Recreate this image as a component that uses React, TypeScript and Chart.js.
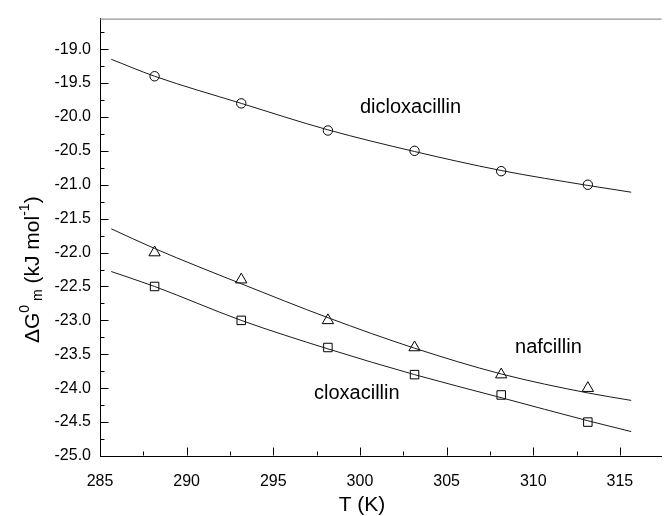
import React, { useEffect, useRef } from 'react';
import { Chart, registerables } from 'chart.js';

Chart.register(...registerables);

// ---- data ----
const temperatures = [288.15, 293.15, 298.15, 303.15, 308.15, 313.15];
const dicloxacillin = [-19.4, -19.8, -20.2, -20.5, -20.8, -21.0];
const nafcillin = [-22.0, -22.4, -23.0, -23.4, -23.8, -24.0];
const cloxacillin = [-22.5, -23.0, -23.4, -23.8, -24.1, -24.5];

const fitTemperatures = [285.65, 288.15, 293.15, 298.15, 303.15, 308.15, 313.15, 315.65];
const dicloxacillinFit = [-19.15, -19.4, -19.8, -20.19, -20.51, -20.79, -21.01, -21.11];
const nafcillinFit = [-21.65, -21.94, -22.46, -22.96, -23.41, -23.79, -24.07, -24.18];
const cloxacillinFit = [-22.28, -22.5, -23.0, -23.42, -23.8, -24.14, -24.48, -24.64];

const xTickValues = [285, 290, 295, 300, 305, 310, 315];
const yTickValues = [-25.0, -24.5, -24.0, -23.5, -23.0, -22.5, -22.0, -21.5, -21.0, -20.5, -20.0, -19.5, -19.0];
const seriesNames = ['dicloxacillin', 'nafcillin', 'cloxacillin'];
const xTitle = 'T (K)';

const FONT = 'Arial, "Liberation Sans", sans-serif';

const pairs = (xs: number[], ys: number[]) => xs.map((x, i) => ({ x, y: ys[i] }));

const decorPlugin = {
  id: 'decor',
  afterDraw(chart: any) {
    const { ctx, chartArea, scales } = chart;
    const xs = scales.x;
    const ys = scales.y;
    ctx.save();
    // top frame line
    ctx.strokeStyle = '#777';
    ctx.lineWidth = 1;
    ctx.beginPath();
    ctx.moveTo(chartArea.left, chartArea.top + 0.5);
    ctx.lineTo(chartArea.right, chartArea.top + 0.5);
    ctx.stroke();

    // inward ticks
    ctx.strokeStyle = '#000';
    ctx.beginPath();
    const yb = Math.round(chartArea.bottom) - 0.5;
    for (let v = xTickValues[0]; v <= xs.max + 1e-6; v += 2.5) {
      const px = Math.round(xs.getPixelForValue(v)) + 0.5;
      const major = Math.abs(v / 5 - Math.round(v / 5)) < 1e-6;
      ctx.moveTo(px, yb);
      ctx.lineTo(px, yb - (major ? 8 : 4));
    }
    const xl = Math.round(chartArea.left) + 0.5;
    for (let v = yTickValues[0]; v <= ys.max + 1e-6; v += 0.25) {
      const py = Math.round(ys.getPixelForValue(v)) + 0.5;
      const major = Math.abs(v / 0.5 - Math.round(v / 0.5)) < 1e-6;
      ctx.moveTo(xl, py);
      ctx.lineTo(xl + (major ? 8 : 4), py);
    }
    ctx.stroke();

    // series labels
    ctx.fillStyle = '#000';
    ctx.font = `20px ${FONT}`;
    ctx.textBaseline = 'alphabetic';
    ctx.textAlign = 'left';
    const labelAt = [
      { x: 300.0, y: -19.94 },
      { x: 308.95, y: -23.48 },
      { x: 297.35, y: -24.16 },
    ];
    seriesNames.forEach((name, i) => {
      ctx.fillText(name, xs.getPixelForValue(labelAt[i].x), ys.getPixelForValue(labelAt[i].y));
    });

    // x title
    ctx.textAlign = 'center';
    ctx.font = `21px ${FONT}`;
    ctx.fillText(xTitle, 362, 511);

    // y title (rotated rich text)
    ctx.translate(39, 343);
    ctx.rotate(-Math.PI / 2);
    ctx.textAlign = 'left';
    const parts: { t: string; size: number; dy: number }[] = [
      { t: '\u0394G', size: 21, dy: 0 },
      { t: '0', size: 14, dy: -10 },
      { t: ' m', size: 14, dy: 3 },
      { t: ' (kJ mol', size: 21, dy: 0 },
      { t: '-1', size: 14, dy: -10 },
      { t: ')', size: 21, dy: 0 },
    ];
    let cx = 0;
    parts.forEach((p) => {
      ctx.font = `${p.size}px ${FONT}`;
      ctx.fillText(p.t, cx, p.dy);
      cx += ctx.measureText(p.t).width;
    });
    ctx.restore();
  },
};

export default function App() {
  const ref = useRef<HTMLCanvasElement | null>(null);
  useEffect(() => {
    if (!ref.current) return;
    const lineDs = (ys: number[]) => ({
      data: pairs(fitTemperatures, ys),
      showLine: true,
      borderColor: '#1a1a1a',
      borderWidth: 1,
      pointRadius: 0,
      tension: 0.4,
      cubicInterpolationMode: 'monotone' as const,
      fill: false,
    });
    const pointDs = (ys: number[], style: string, r: number) => ({
      data: pairs(temperatures, ys),
      showLine: false,
      pointStyle: style,
      pointRadius: r,
      pointBorderColor: '#000',
      pointBackgroundColor: 'rgba(0,0,0,0)',
      pointBorderWidth: 1,
    });
    const chart = new Chart(ref.current, {
      type: 'scatter',
      data: {
        datasets: [
          lineDs(dicloxacillinFit),
          lineDs(nafcillinFit),
          lineDs(cloxacillinFit),
          pointDs(dicloxacillin, 'circle', 4.7),
          pointDs(nafcillin, 'triangle', 6.5),
          pointDs(cloxacillin, 'rect', 6),
        ] as any,
      },
      options: {
        responsive: false,
        animation: false,
        events: [],
        layout: { padding: { top: 13, left: 0, right: 0, bottom: 0 } },
        plugins: { legend: { display: false }, tooltip: { enabled: false } },
        scales: {
          x: {
            type: 'linear',
            min: 285,
            max: 317.4,
            grid: { display: false, drawTicks: false },
            border: { display: true, color: '#000', width: 1 },
            ticks: { font: { family: FONT, size: 16 }, color: '#000', padding: 16, maxRotation: 0, autoSkip: false },
            afterBuildTicks: (s: any) => {
              s.ticks = xTickValues.map((v) => ({ value: v }));
            },
            afterFit: (s: any) => {
              s.height = 60;
            },
          },
          y: {
            type: 'linear',
            min: -25,
            max: -18.55,
            grid: { display: false, drawTicks: false },
            border: { display: true, color: '#000', width: 1 },
            ticks: {
              font: { family: FONT, size: 16 },
              color: '#000',
              padding: 9,
              autoSkip: false,
              callback: (v: any) => Number(v).toFixed(1),
            },
            afterBuildTicks: (s: any) => {
              s.ticks = yTickValues.map((v) => ({ value: v }));
            },
            afterFit: (s: any) => {
              s.width = 100;
            },
          },
        },
      } as any,
      plugins: [decorPlugin],
    });
    return () => chart.destroy();
  }, []);
  return (
    <div style={{ position: 'fixed', left: 0, top: 0, width: 669, height: 516, background: '#fff' }}>
      <canvas ref={ref} width={669} height={516} style={{ width: 669, height: 516 }} />
    </div>
  );
}
